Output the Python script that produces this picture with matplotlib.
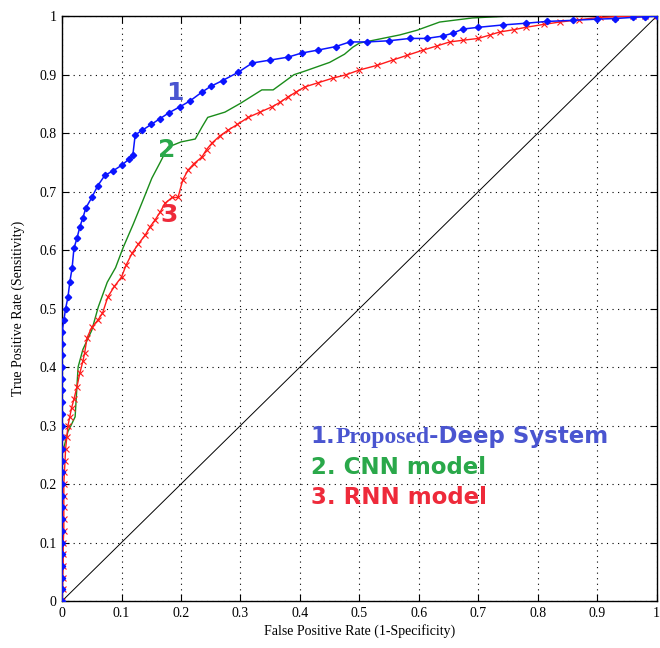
import matplotlib
matplotlib.use("Agg")
import matplotlib.pyplot as plt

# ROC curve points
fpr_deep = [0, 0, 0, 0, 0, 0, 0, 0, 0, 0, 0, 0, 0, 0, 0, 0, 0, 0, 0, 0, 0, 0, 0, 0,
            0.003, 0.006, 0.01, 0.013, 0.017, 0.02, 0.025, 0.03, 0.035, 0.04, 0.05,
            0.06, 0.072, 0.085, 0.1, 0.112, 0.119, 0.123, 0.135, 0.15, 0.165, 0.18,
            0.198, 0.215, 0.235, 0.25, 0.27, 0.296, 0.32, 0.35, 0.38, 0.403, 0.43,
            0.46, 0.484, 0.513, 0.55, 0.585, 0.613, 0.64, 0.657, 0.674, 0.7, 0.741,
            0.78, 0.815, 0.86, 0.9, 0.93, 0.96, 0.98, 1.0]
tpr_deep = [0, 0.02, 0.04, 0.06, 0.08, 0.10, 0.12, 0.14, 0.16, 0.18, 0.20, 0.22, 0.24,
            0.26, 0.28, 0.30, 0.32, 0.34, 0.36, 0.38, 0.40, 0.42, 0.44, 0.46,
            0.48, 0.50, 0.52, 0.545, 0.57, 0.603, 0.62, 0.64, 0.655, 0.672, 0.69,
            0.71, 0.728, 0.735, 0.745, 0.755, 0.762, 0.797, 0.805, 0.815, 0.825, 0.835,
            0.845, 0.855, 0.87, 0.88, 0.89, 0.904, 0.92, 0.925, 0.93, 0.937, 0.942,
            0.948, 0.956, 0.956, 0.958, 0.962, 0.962, 0.966, 0.971, 0.978, 0.981, 0.985,
            0.988, 0.991, 0.993, 0.995, 0.996, 0.998, 0.999, 1.0]

fpr_cnn = [0, 0, 0.005, 0.01, 0.015, 0.022, 0.027, 0.035, 0.05, 0.061, 0.076, 0.09,
           0.103, 0.12, 0.136, 0.151, 0.165, 0.178, 0.2, 0.224, 0.235, 0.245, 0.274,
           0.30, 0.336, 0.355, 0.39, 0.408, 0.45, 0.475, 0.489, 0.50, 0.568, 0.597,
           0.635, 0.69, 0.748, 0.8, 1.0]
tpr_cnn = [0, 0.25, 0.27, 0.29, 0.30, 0.315, 0.40, 0.43, 0.463, 0.503, 0.545, 0.57,
           0.605, 0.645, 0.685, 0.723, 0.75, 0.776, 0.785, 0.79, 0.81, 0.827, 0.836,
           0.851, 0.874, 0.874, 0.90, 0.906, 0.921, 0.935, 0.947, 0.954, 0.968, 0.976,
           0.99, 0.997, 1.0, 1.0, 1.0]

fpr_rnn = [0, 0.001, 0.001, 0.002, 0.002, 0.002, 0.003, 0.003, 0.003, 0.003, 0.003,
           0.004, 0.005, 0.006, 0.008, 0.01, 0.013, 0.016, 0.02, 0.025, 0.03, 0.035,
           0.038, 0.042, 0.05, 0.06, 0.068, 0.077, 0.088, 0.10, 0.108, 0.118, 0.128,
           0.14, 0.148, 0.156, 0.165, 0.173, 0.185, 0.195, 0.203, 0.212, 0.222, 0.235,
           0.243, 0.252, 0.265, 0.279, 0.295, 0.313, 0.333, 0.353, 0.367, 0.38, 0.393,
           0.408, 0.43, 0.455, 0.478, 0.50, 0.53, 0.556, 0.58, 0.607, 0.63, 0.652,
           0.675, 0.70, 0.72, 0.736, 0.76, 0.78, 0.81, 0.837, 0.87, 0.904, 0.93, 0.96,
           0.98, 1.0]
tpr_rnn = [0, 0.02, 0.04, 0.06, 0.08, 0.10, 0.12, 0.14, 0.16, 0.18, 0.20, 0.22, 0.24,
           0.26, 0.28, 0.30, 0.315, 0.33, 0.345, 0.366, 0.39, 0.41, 0.424, 0.45, 0.468,
           0.48, 0.492, 0.52, 0.538, 0.554, 0.575, 0.595, 0.61, 0.626, 0.64, 0.651,
           0.665, 0.68, 0.69, 0.69, 0.72, 0.737, 0.748, 0.759, 0.772, 0.783, 0.795,
           0.805, 0.815, 0.827, 0.836, 0.845, 0.853, 0.862, 0.87, 0.879, 0.886, 0.894,
           0.90, 0.908, 0.916, 0.925, 0.933, 0.942, 0.949, 0.956, 0.959, 0.962, 0.968,
           0.973, 0.977, 0.981, 0.986, 0.99, 0.994, 0.998, 0.999, 1.0, 1.0, 1.0]

ticks = [0, 0.1, 0.2, 0.3, 0.4, 0.5, 0.6, 0.7, 0.8, 0.9, 1]
tick_labels = ["0", "0.1", "0.2", "0.3", "0.4", "0.5", "0.6", "0.7", "0.8", "0.9", "1"]

serif = "Liberation Serif"
sans = "Liberation Sans"
wide_sans = "DejaVu Sans"
blue_txt = "#4a55d0"
green_txt = "#2aa84a"
red_txt = "#ee2a3a"

fig = plt.figure(figsize=(6.6, 6.48), dpi=100)
ax = fig.add_axes([0.094, 0.0725, 0.901, 0.9025])

ax.plot([0, 1], [0, 1], color="black", lw=0.7, zorder=1)
ax.plot(fpr_cnn, tpr_cnn, color="#1a8c1a", lw=1.0, zorder=2)
ax.plot(fpr_rnn, tpr_rnn, color="#ff1a1a", lw=1.0, marker="x", ms=5, mew=0.8, zorder=3)
ax.plot(fpr_deep, tpr_deep, color="#0a14ff", lw=1.1, marker="D", ms=3.2, zorder=4)

ax.set_xlim(0, 1)
ax.set_ylim(0, 1)
ax.set_xticks(ticks)
ax.set_yticks(ticks)
ax.set_xticklabels(tick_labels, fontfamily=serif, fontsize=10)
ax.set_yticklabels(tick_labels, fontfamily=serif, fontsize=10)
ax.tick_params(direction="in", top=True, right=True, length=5, width=0.8, pad=4)
ax.grid(True, color="black", linestyle=(0, (1, 4)), lw=0.8)
for sp in ax.spines.values():
    sp.set_linewidth(1.0)

ax.set_xlabel("False Positive Rate (1-Specificity)", fontfamily=serif, fontsize=10, labelpad=3)
ax.set_ylabel("True Positive Rate (Sensitivity)", fontfamily=serif, fontsize=10, labelpad=10)

# curve numbers
for x, y, s, c in [(0.19, 0.868, "1", blue_txt), (0.176, 0.771, "2", green_txt),
                   (0.18, 0.66, "3", red_txt)]:
    ax.text(x, y, s, color=c, fontsize=18, fontweight="bold", fontfamily=wide_sans,
            ha="center", va="center")

# legend-like text block, first line mixes sans and serif pieces on one baseline
renderer = fig.canvas.get_renderer()
x0, y0 = 0.418, 0.27
parts = [("1.", wide_sans, 16.5), ("Proposed", serif, 17), ("-Deep System", wide_sans, 16.5)]
x = x0
for s, fam, fs in parts:
    t = ax.text(x, y0, s, color=blue_txt, fontsize=fs, fontweight="bold",
                fontfamily=fam, va="baseline")
    bb = t.get_window_extent(renderer).transformed(ax.transData.inverted())
    x = bb.x1
ax.text(x0, y0 - 0.052, "2. CNN model", color=green_txt, fontsize=16.5, fontweight="bold",
        fontfamily=wide_sans, va="baseline")
ax.text(x0, y0 - 0.104, "3. RNN model", color=red_txt, fontsize=16.5, fontweight="bold",
        fontfamily=wide_sans, va="baseline")

fig.savefig("out.png", dpi=100)
